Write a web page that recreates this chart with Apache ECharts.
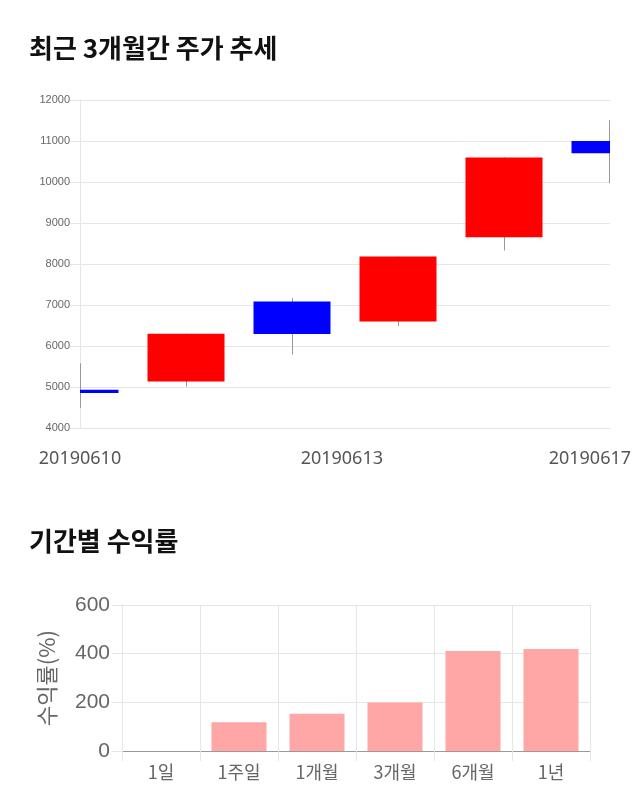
<!DOCTYPE html>
<html>
<head>
<meta charset="utf-8">
<script src="https://cdn.jsdelivr.net/npm/echarts@6/dist/echarts.min.js"></script>
<style>
  html, body { margin: 0; padding: 0; background: #fff; }
  #chart { width: 640px; height: 810px; }
</style>
</head>
<body>
<div id="chart"></div>
<script>
// ---- data ----
const dates = ['20190610', '20190611', '20190612', '20190613', '20190614', '20190617'];
const openPrice = [4930, 5135, 7085, 6600, 8650, 11000];
const closePrice = [4855, 6300, 6290, 8180, 10600, 10700];
const lowPrice = [4490, 5010, 5790, 6490, 8330, 9970];
const highPrice = [5580, 6300, 7170, 8180, 10600, 11510];
const dateTickLabels = ['20190610', '20190613', '20190617'];

const periods = ['1일', '1주일', '1개월', '3개월', '6개월', '1년'];
const returns = [0, 118, 153, 199, 411, 419];

// ---- build ----
const candleData = dates.map((d, i) => [i, openPrice[i], closePrice[i], lowPrice[i], highPrice[i]]);
const labelSlots = [0, 2.47, 4.81];

function renderCandle(params, api) {
  const i = api.value(0);
  const o = api.value(1), c = api.value(2), lo = api.value(3), hi = api.value(4);
  const pO = api.coord([i, o]);
  const pC = api.coord([i, c]);
  const pL = api.coord([i, lo]);
  const pH = api.coord([i, hi]);
  const cs = params.coordSys;
  const bw = 77;
  const x = Math.round(pO[0]);
  const top = Math.min(pO[1], pC[1]);
  const h = Math.max(Math.abs(pO[1] - pC[1]), 1);
  const rect = echarts.graphic.clipRectByRect(
    { x: x - bw / 2, y: top, width: bw, height: h },
    { x: cs.x, y: cs.y, width: cs.width, height: cs.height });
  const up = c >= o;
  const wx = Math.min(Math.max(x + 0.5, cs.x + 0.5), cs.x + cs.width - 0.5);
  const children = [{
    type: 'line',
    shape: { x1: wx, y1: pH[1], x2: wx, y2: pL[1] },
    style: { stroke: '#999', lineWidth: 1 }
  }];
  if (rect) {
    children.push({ type: 'rect', shape: rect, style: { fill: up ? '#ff0000' : '#0000ff' } });
  }
  return { type: 'group', children };
}

const chart = echarts.init(document.getElementById('chart'));
const gridColor = '#e6e6e6';
const option = {
  animation: false,
  title: [
    { text: '최근 3개월간 주가 추세', left: 29, top: 35, padding: 0,
      textStyle: { fontFamily: 'Noto Sans CJK KR', fontWeight: 'bold', fontSize: 26, color: '#111' } },
    { text: '기간별 수익률', left: 29, top: 528, padding: 0,
      textStyle: { fontFamily: 'Noto Sans CJK KR', fontWeight: 'bold', fontSize: 26, color: '#111' } }
  ],
  grid: [
    { left: 80, right: 30, top: 100, height: 328 },
    { left: 122, right: 50, top: 605, height: 146 }
  ],
  xAxis: [
    { type: 'category', gridIndex: 0, data: dates, boundaryGap: false,
      axisLine: { show: false }, axisTick: { show: false }, axisLabel: { show: false },
      splitLine: { show: false } },
    { type: 'value', gridIndex: 0, position: 'bottom', min: 0, max: dates.length - 1,
      axisLine: { show: false }, axisTick: { show: false }, splitLine: { show: false },
      axisLabel: {
        customValues: labelSlots,
        formatter: (v) => {
          const k = labelSlots.indexOf(v);
          return k >= 0 ? dateTickLabels[k] : '';
        },
        margin: 22, fontSize: 18, color: '#555', fontFamily: 'Noto Sans'
      } },
    { type: 'category', gridIndex: 1, data: periods, boundaryGap: true,
      axisLine: { show: true, lineStyle: { color: '#999' } },
      axisTick: { show: true, length: 10, lineStyle: { color: gridColor } },
      splitLine: { show: true, lineStyle: { color: gridColor } },
      axisLabel: { margin: 12, fontSize: 18, color: '#666', fontFamily: 'Noto Sans CJK KR' } }
  ],
  yAxis: [
    { type: 'value', gridIndex: 0, min: 4000, max: 12000, interval: 1000,
      axisLine: { show: true, lineStyle: { color: gridColor } },
      axisTick: { show: true, length: 10, lineStyle: { color: gridColor } },
      splitLine: { show: true, lineStyle: { color: gridColor } },
      axisLabel: { margin: 10, fontSize: 11, color: '#666', fontFamily: 'Liberation Sans',
        formatter: (v) => String(v) } },
    { type: 'value', gridIndex: 1, min: 0, max: 600, interval: 200,
      name: '수익률(%)', nameLocation: 'middle', nameGap: 64, nameRotate: 90,
      nameTextStyle: { fontSize: 22, color: '#666', fontFamily: 'Noto Sans CJK KR' },
      axisLine: { show: true, lineStyle: { color: gridColor } },
      axisTick: { show: true, length: 10, lineStyle: { color: gridColor } },
      splitLine: { show: true, lineStyle: { color: gridColor } },
      axisLabel: { margin: 12, fontSize: 21, color: '#666', fontFamily: 'Liberation Sans' } }
  ],
  series: [
    { type: 'custom', xAxisIndex: 0, yAxisIndex: 0, data: candleData,
      encode: { x: 0, y: [1, 2, 3, 4] }, renderItem: renderCandle, clip: true },
    { type: 'bar', xAxisIndex: 2, yAxisIndex: 1, data: returns, barWidth: 55,
      itemStyle: { color: '#ffa6a6', borderWidth: 0 } }
  ]
};
chart.setOption(option);
</script>
</body>
</html>
